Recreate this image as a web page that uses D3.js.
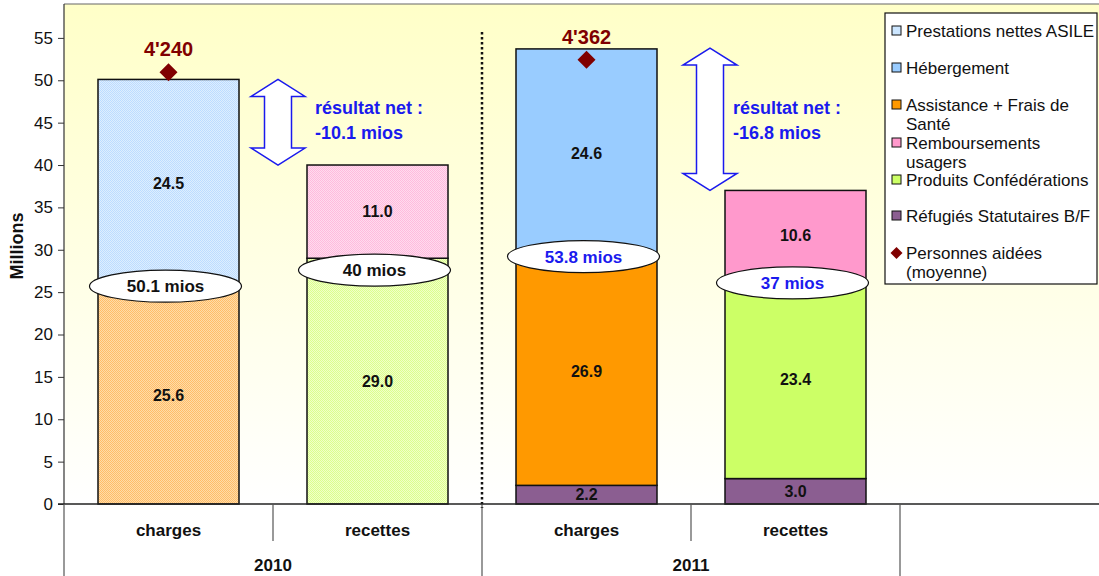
<!DOCTYPE html>
<html>
<head>
<meta charset="utf-8">
<script src="https://cdn.jsdelivr.net/npm/d3@7"></script>
<style>
  html, body { margin: 0; padding: 0; background: #fff; }
  svg { display: block; font-family: "Liberation Sans", Arial, sans-serif; }
</style>
</head>
<body>
<svg id="chart" width="1099" height="576"></svg>
<script>
// ---- data ----
const years = ["2010", "2011"];
const categories = ["charges", "recettes", "charges", "recettes"];
const categoryYear = [0, 0, 1, 1];

const refugies = [0, 0, 2.2, 3.0];          // Réfugiés Statutaires B/F
const assistance = [25.6, 0, 26.9, 0];      // Assistance + Frais de Santé
const produits = [0, 29.0, 0, 23.4];        // Produits Confédérations
const asile = [24.5, 0, 0, 0];              // Prestations nettes ASILE
const hebergement = [0, 0, 24.6, 0];        // Hébergement
const remboursements = [0, 11.0, 0, 10.6];  // Remboursements usagers

const totalLabels = ["50.1 mios", "40 mios", "53.8 mios", "37 mios"];
const totalLabelLevel = [25.7, 27.6, 29.2, 26.1];

const personnes = [4240, null, 4362, null];
const personnesLabels = ["4'240", null, "4'362", null];

const netFrom = [50.1, 53.8];
const netTo = [40, 37];
const netLabels = ["-10.1 mios", "-16.8 mios"];

const yTicks = [0, 5, 10, 15, 20, 25, 30, 35, 40, 45, 50, 55];

// color = solid fill (2011); dotA / dotB = the two tones of the dotted fill (2010)
const seriesDefs = [
  { key: "refugies", name: "Réfugiés Statutaires B/F", values: refugies, color: "#8B5E91", dotA: "#9E74A4", dotB: "#C2A6C6" },
  { key: "assistance", name: "Assistance + Frais de Santé", values: assistance, color: "#FF9900", dotA: "#FFBD6A", dotB: "#FFDCA8" },
  { key: "produits", name: "Produits Confédérations", values: produits, color: "#CCFF66", dotA: "#DBFF8E", dotB: "#F1FFC8" },
  { key: "asile", name: "Prestations nettes ASILE", values: asile, color: "#CCE6FF", dotA: "#BDDCFF", dotB: "#DDEEFF" },
  { key: "hebergement", name: "Hébergement", values: hebergement, color: "#99CCFF", dotA: "#BDDCFF", dotB: "#DDEEFF" },
  { key: "remboursements", name: "Remboursements usagers", values: remboursements, color: "#FF99CC", dotA: "#FFBBDD", dotB: "#FFDBEE" }
];

const legendItems = [
  { label: ["Prestations nettes ASILE"], color: "#CCE6FF", type: "box" },
  { label: ["Hébergement"], color: "#99CCFF", type: "box" },
  { label: ["Assistance + Frais de", "Santé"], color: "#FF9900", type: "box" },
  { label: ["Remboursements", "usagers"], color: "#FF99CC", type: "box" },
  { label: ["Produits Confédérations"], color: "#CCFF66", type: "box" },
  { label: ["Réfugiés Statutaires B/F"], color: "#8B5E91", type: "box" },
  { label: ["Personnes aidées", "(moyenne)"], color: "#800000", type: "diamond" }
];

// ---- layout ----
const svg = d3.select("#chart");
const W = 1099, H = 576;
const plot = { left: 64, top: 4, bottom: 504, right: 1099 };
const slot = 209;

const x = d3.scaleBand()
  .domain(d3.range(5))
  .range([plot.left, plot.left + slot * 5])
  .paddingInner(0).paddingOuter(0);
const barW = 141;

const y = d3.scaleLinear().domain([0, 59]).range([plot.bottom, plot.top]);
const y2 = d3.scaleLinear().domain([0, 4910]).range([plot.bottom, plot.top]);

const defs = svg.append("defs");

// plot background gradient
const grad = defs.append("linearGradient").attr("id", "bg")
  .attr("x1", 0).attr("y1", 0).attr("x2", 0).attr("y2", 1);
grad.append("stop").attr("offset", "0%").attr("stop-color", "#FFFFC8");
grad.append("stop").attr("offset", "100%").attr("stop-color", "#FFFFFF");

// two-tone checker used for the 2010 bars
seriesDefs.forEach(s => {
  const p = defs.append("pattern").attr("id", "pat-" + s.key)
    .attr("patternUnits", "userSpaceOnUse").attr("width", 2).attr("height", 2);
  p.append("rect").attr("width", 2).attr("height", 2).attr("fill", s.dotB);
  p.append("rect").attr("x", 0).attr("y", 0).attr("width", 1).attr("height", 1).attr("fill", s.dotA);
  p.append("rect").attr("x", 1).attr("y", 1).attr("width", 1).attr("height", 1).attr("fill", s.dotA);
});

svg.append("rect").attr("width", W).attr("height", H).attr("fill", "#fff");
svg.append("rect")
  .attr("x", plot.left).attr("y", plot.top)
  .attr("width", plot.right - plot.left).attr("height", plot.bottom - plot.top)
  .attr("fill", "url(#bg)");
svg.append("line")
  .attr("x1", plot.left).attr("x2", plot.right)
  .attr("y1", plot.top).attr("y2", plot.top)
  .attr("stroke", "#666").attr("stroke-width", 1.2);

// ---- stacked bars ----
const table = categories.map((c, i) => {
  const row = { i };
  seriesDefs.forEach(s => row[s.key] = s.values[i]);
  return row;
});
const stack = d3.stack().keys(seriesDefs.map(s => s.key));
const stacked = stack(table);

const barX = i => x(i) + (x.bandwidth() - barW) / 2;

stacked.forEach((layer, li) => {
  const s = seriesDefs[li];
  const g = svg.append("g");
  layer.forEach((d, i) => {
    const v = d[1] - d[0];
    if (!v) return;
    const fill = categoryYear[i] === 0 ? "url(#pat-" + s.key + ")" : s.color;
    g.append("rect")
      .attr("x", barX(i)).attr("width", barW)
      .attr("y", y(d[1])).attr("height", y(d[0]) - y(d[1]))
      .attr("fill", fill).attr("stroke", "#111").attr("stroke-width", 1.5);
    g.append("text")
      .attr("x", x(i) + x.bandwidth() / 2)
      .attr("y", y((d[0] + d[1]) / 2))
      .attr("dy", "0.36em")
      .attr("text-anchor", "middle")
      .attr("font-size", 16).attr("font-weight", "bold").attr("fill", "#111")
      .text(v.toFixed(1));
  });
});

// ---- total ellipses ----
totalLabels.forEach((t, i) => {
  const cx = x(i) + x.bandwidth() / 2 - 3;
  const cy = y(totalLabelLevel[i]);
  svg.append("ellipse")
    .attr("cx", cx).attr("cy", cy).attr("rx", 76).attr("ry", 16)
    .attr("fill", "#fff").attr("stroke", "#111").attr("stroke-width", 1.2);
  svg.append("text")
    .attr("x", cx).attr("y", cy).attr("dy", "0.36em")
    .attr("text-anchor", "middle")
    .attr("font-size", 17).attr("font-weight", "bold")
    .attr("fill", categoryYear[i] === 0 ? "#111" : "#1A1AEE")
    .text(t);
});

// ---- personnes aidées (secondary scale) ----
personnes.forEach((v, i) => {
  if (v == null) return;
  const cx = x(i) + x.bandwidth() / 2;
  const cy = y2(v);
  svg.append("path")
    .attr("d", `M${cx},${cy - 9}L${cx + 9},${cy}L${cx},${cy + 9}L${cx - 9},${cy}Z`)
    .attr("fill", "#800000");
  svg.append("text")
    .attr("x", cx).attr("y", cy - 16)
    .attr("text-anchor", "middle")
    .attr("font-size", 20).attr("font-weight", "bold").attr("fill", "#800000")
    .text(personnesLabels[i]);
});

// ---- net result arrows ----
const arrowShift = [5, 19];
netLabels.forEach((t, k) => {
  const boundary = x(k * 2 + 1);
  const cx = boundary + arrowShift[k];
  const yt = y(netFrom[k]), yb = y(netTo[k]);
  const hw = 27, sw = 13.5, hh = 17;
  const path = `M${cx},${yt}L${cx + hw},${yt + hh}L${cx + sw},${yt + hh}L${cx + sw},${yb - hh}` +
    `L${cx + hw},${yb - hh}L${cx},${yb}L${cx - hw},${yb - hh}L${cx - sw},${yb - hh}` +
    `L${cx - sw},${yt + hh}L${cx - hw},${yt + hh}Z`;
  svg.append("path").attr("d", path)
    .attr("fill", "#fff").attr("stroke", "#1A1AEE").attr("stroke-width", 1.5);
  const tx = boundary + 42;
  svg.append("text").attr("x", tx).attr("y", 114)
    .attr("font-size", 18).attr("font-weight", "bold").attr("fill", "#1A1AEE")
    .text("résultat net :");
  svg.append("text").attr("x", tx).attr("y", 139)
    .attr("font-size", 18).attr("font-weight", "bold").attr("fill", "#1A1AEE")
    .text(t);
});

// ---- year separator ----
svg.append("line")
  .attr("x1", x(2)).attr("x2", x(2))
  .attr("y1", 32).attr("y2", 508)
  .attr("stroke", "#111").attr("stroke-width", 2.5)
  .attr("stroke-dasharray", "2.5,2.5");

// ---- y axis ----
const yAxis = svg.append("g").attr("transform", `translate(${plot.left},0)`)
  .call(d3.axisLeft(y).tickValues(yTicks).tickSize(6).tickPadding(5));
yAxis.select(".domain").attr("d", `M0,${plot.top}V${plot.bottom}`).attr("stroke", "#333").attr("stroke-width", 1.2);
yAxis.selectAll(".tick line").attr("stroke", "#333");
yAxis.selectAll(".tick text").attr("font-size", 17).attr("fill", "#111")
  .attr("font-family", "Liberation Sans, Arial, sans-serif");

svg.append("text")
  .attr("transform", `translate(23,${(plot.top + plot.bottom) / 2 - 8}) rotate(-90)`)
  .attr("text-anchor", "middle")
  .attr("font-size", 18).attr("font-weight", "bold").attr("fill", "#111")
  .text("Millions");

// ---- category axis ----
const axisY = plot.bottom;
svg.append("line")
  .attr("x1", plot.left - 6).attr("x2", plot.right)
  .attr("y1", axisY).attr("y2", axisY)
  .attr("stroke", "#222").attr("stroke-width", 1.5);

d3.range(5).forEach(k => {
  const bx = plot.left + k * slot;
  const long = k % 2 === 0;
  svg.append("line")
    .attr("x1", bx).attr("x2", bx)
    .attr("y1", axisY).attr("y2", long ? H : 541)
    .attr("stroke", "#555").attr("stroke-width", 1.2);
});

categories.forEach((c, i) => {
  svg.append("text")
    .attr("x", x(i) + x.bandwidth() / 2).attr("y", 536)
    .attr("text-anchor", "middle")
    .attr("font-size", 17).attr("font-weight", "bold").attr("fill", "#111")
    .text(c);
});
years.forEach((yr, k) => {
  svg.append("text")
    .attr("x", x(k * 2 + 1)).attr("y", 571)
    .attr("text-anchor", "middle")
    .attr("font-size", 17).attr("font-weight", "bold").attr("fill", "#111")
    .text(yr);
});

// ---- legend ----
const lg = svg.append("g");
lg.append("rect").attr("x", 885).attr("y", 13).attr("width", 212).attr("height", 271)
  .attr("fill", "#fff").attr("stroke", "#111").attr("stroke-width", 1.2);
const legendRows = [31, 68, 105, 143, 180, 216, 253];
legendItems.forEach((it, k) => {
  const ty = legendRows[k];
  if (it.type === "box") {
    lg.append("rect").attr("x", 892).attr("y", ty - 5).attr("width", 9).attr("height", 9)
      .attr("fill", it.color).attr("stroke", "#111").attr("stroke-width", 1);
  } else {
    lg.append("path")
      .attr("d", `M896.5,${ty - 6}L902.5,${ty}L896.5,${ty + 6}L890.5,${ty}Z`)
      .attr("fill", it.color);
  }
  it.label.forEach((line, j) => {
    lg.append("text")
      .attr("x", 906).attr("y", ty + j * 19).attr("dy", "0.36em")
      .attr("font-size", 17).attr("fill", "#111")
      .text(line);
  });
});
</script>
</body>
</html>
